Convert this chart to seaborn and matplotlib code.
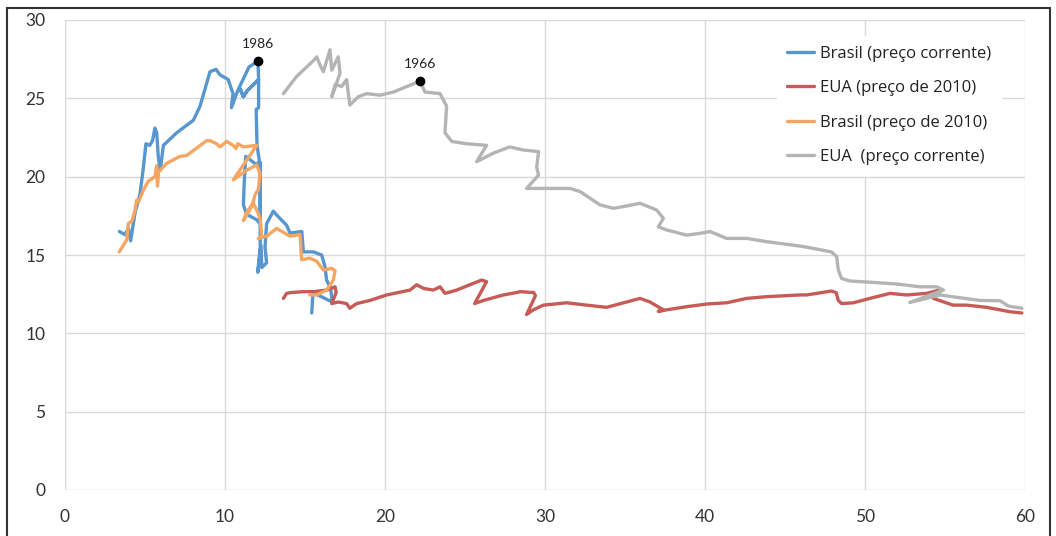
import matplotlib
matplotlib.use("Agg")
import matplotlib.pyplot as plt
import seaborn as sns
from matplotlib.patches import Rectangle

# Brasil (preço corrente)
br_cor_x = [3.4, 3.75, 3.96, 4.1, 4.38, 4.69, 4.9, 5.06, 5.3, 5.47, 5.62, 5.73, 5.83, 5.94, 6.0, 6.15,
            6.98, 8.02, 8.44, 9.06, 9.44, 9.69, 10.2, 10.5, 10.4, 10.8, 11.5, 12.06, 12.1, 11.4, 11.15,
            10.95, 11.15, 11.4, 12.1, 12.1, 11.95, 12.0, 12.15, 11.98, 11.3, 11.2, 11.15, 11.35, 11.98,
            12.2, 12.2, 12.2, 12.2, 12.05, 12.25, 12.3, 12.6, 12.5, 12.6, 13.02, 13.23, 13.85, 14.06,
            14.8, 14.9, 15.52, 16.04, 16.25, 16.35, 16.6, 16.7, 15.5, 15.42]
br_cor_y = [16.5, 16.3, 16.7, 15.9, 17.7, 18.9, 20.6, 22.1, 22.0, 22.3, 23.1, 22.8, 21.3, 20.4, 20.8, 22.0,
            22.8, 23.6, 24.5, 26.7, 26.85, 26.5, 26.2, 25.3, 24.4, 25.5, 27.0, 27.38, 26.2, 25.5, 25.1,
            25.6, 25.1, 25.5, 26.2, 24.4, 24.3, 22.0, 21.0, 20.75, 21.3, 19.6, 18.2, 17.6, 17.25,
            17.0, 20.9, 16.6, 15.5, 13.9, 15.6, 14.2, 14.5, 15.5, 17.0, 17.8, 17.55, 16.9, 16.4,
            16.5, 15.2, 15.2, 15.0, 14.25, 13.4, 12.9, 12.0, 12.6, 11.3]

# EUA (preço de 2010)
eua_2010_x = [13.65, 13.85, 14.1, 14.9, 15.52, 16.35, 16.88, 16.95, 16.67, 17.08, 17.6, 17.8, 18.23, 19.06,
              20.1, 21.56, 21.98, 22.4, 23.02, 23.44, 23.75, 24.48, 25.3, 26.04, 26.35, 25.6, 26.15, 27.4,
              28.2, 28.44, 29.3, 29.4, 28.85, 29.27, 29.9, 31.35, 32.6, 33.85, 35.1, 35.94, 36.56, 37.4,
              37.08, 37.6, 38.85, 40.1, 41.35, 42.6, 43.85, 45.94, 46.35, 47.9, 48.2, 48.33, 48.54, 49.27,
              50.3, 51.56, 52.6, 53.85, 54.8, 54.27, 55.5, 56.35, 57.6, 59.06, 59.8]
eua_2010_y = [12.23, 12.55, 12.6, 12.66, 12.66, 12.76, 12.97, 12.6, 11.9, 12.0, 11.9, 11.6, 11.9, 12.1,
              12.45, 12.76, 13.1, 12.87, 12.76, 12.97, 12.55, 12.76, 13.1, 13.4, 13.3, 11.9, 12.1, 12.45,
              12.6, 12.66, 12.6, 12.4, 11.2, 11.5, 11.8, 11.95, 11.8, 11.66, 12.0, 12.23, 12.0, 11.5,
              11.4, 11.5, 11.7, 11.87, 11.95, 12.23, 12.34, 12.45, 12.45, 12.7, 12.6, 12.1, 11.9, 11.95,
              12.23, 12.55, 12.45, 12.55, 12.8, 12.23, 11.8, 11.8, 11.66, 11.38, 11.3]

# Brasil (preço de 2010)
br_2010_x = [3.39, 3.85, 3.96, 4.2, 4.38, 4.48, 4.6, 4.9, 5.2, 5.62, 5.73, 5.78, 5.85, 6.35, 7.19, 7.6,
             8.85, 9.06, 9.48, 9.69, 10.1, 10.5, 10.69, 10.8, 11.15, 11.98, 10.52, 11.35, 11.98, 12.19,
             12.08, 11.9, 11.67, 11.15, 11.4, 11.77, 12.08, 12.2, 12.29, 12.08, 12.6, 13.23, 14.06,
             14.69, 14.79, 15.3, 15.73, 16.15, 16.67, 16.88, 16.77, 16.35, 15.73, 15.3]
br_2010_y = [15.2, 15.95, 17.0, 17.2, 17.9, 18.5, 18.4, 19.15, 19.7, 20.0, 20.7, 19.4, 20.3, 20.85, 21.3, 21.35,
             22.3, 22.3, 22.1, 21.9, 22.25, 22.0, 21.8, 22.1, 21.9, 22.0, 19.8, 20.4, 20.75, 20.2,
             19.15, 18.9, 18.1, 17.2, 17.8, 18.3, 17.65, 17.3, 16.2, 16.05, 16.2, 16.7, 16.2,
             16.3, 14.7, 14.8, 14.6, 14.04, 14.15, 14.0, 13.4, 12.76, 12.45, 12.45]

# EUA (preço corrente)
eua_cor_x = [13.65, 14.48, 15.52, 15.73, 15.95, 16.15, 16.56, 16.67, 17.08, 17.19, 16.67, 16.9, 17.29, 17.6,
             17.8, 18.33, 18.85, 19.7, 20.52, 22.19, 22.5, 23.44, 23.85, 23.75, 24.17, 25.1, 26.35, 25.73,
             26.77, 27.8, 28.65, 29.6, 29.48, 29.6, 28.85, 30.1, 31.56, 32.19, 33.44, 34.27, 35.1, 35.94,
             36.98, 37.4, 37.08, 37.6, 38.85, 39.69, 40.31, 41.35, 42.6, 43.85, 45.94, 46.35, 47.9, 48.23,
             48.33, 48.54, 49.06, 50.52, 51.98, 53.44, 54.48, 54.9, 52.8, 54.69, 55.73, 57.19, 58.44,
             58.96, 59.8]
eua_cor_y = [25.3, 26.4, 27.4, 27.65, 27.1, 26.7, 28.1, 26.8, 27.65, 26.6, 25.1, 25.9, 25.75, 26.2,
             24.57, 25.1, 25.3, 25.2, 25.4, 26.1, 25.4, 25.3, 24.5, 22.8, 22.25, 22.1, 22.0, 20.96,
             21.5, 21.9, 21.7, 21.6, 20.6, 20.1, 19.25, 19.25, 19.25, 19.05, 18.2, 17.98, 18.13, 18.3,
             17.87, 17.34, 16.8, 16.6, 16.27, 16.38, 16.5, 16.06, 16.06, 15.85, 15.57, 15.5, 15.2, 14.9,
             14.04, 13.5, 13.34, 13.25, 13.15, 12.97, 12.97, 12.76, 11.97, 12.45, 12.3, 12.1, 12.08,
             11.74, 11.6]

# marked years
marks = {"1986": (12.06, 27.38), "1966": (22.19, 26.1)}

sns.set_style("white")
plt.rcParams['font.family'] = ['Lato', 'DejaVu Sans']

fig = plt.figure(figsize=(10.56, 5.36), dpi=100)
ax = fig.add_axes([65 / 1056, 46 / 536, 960 / 1056, 470 / 536])

series = [
    (br_cor_x, br_cor_y, "Brasil (preço corrente)", "#5796CE"),
    (eua_2010_x, eua_2010_y, "EUA (preço de 2010)", "#C65B58"),
    (br_2010_x, br_2010_y, "Brasil (preço de 2010)", "#F4A662"),
    (eua_cor_x, eua_cor_y, "EUA  (preço corrente)", "#B4B4B4"),
]
for xs, ys, lab, col in series:
    sns.lineplot(x=xs, y=ys, sort=False, estimator=None, color=col, linewidth=2.4,
                 label=lab, ax=ax, solid_joinstyle='round', solid_capstyle='round')

for txt, (mx, my) in marks.items():
    ax.plot(mx, my, 'o', color='black', markersize=6, zorder=5)
    ax.annotate(txt, (mx, my), xytext=(0, 8), textcoords='offset points',
                ha='center', va='bottom', fontsize=10, color='#222222')

ax.set_xlim(0, 60)
ax.set_ylim(0, 30)
ax.set_xticks(range(0, 61, 10))
ax.set_yticks(range(0, 31, 5))
ax.grid(True, color='#D9D9D9', linewidth=1)
for s in ax.spines.values():
    s.set_visible(False)
ax.tick_params(axis='both', length=0, labelsize=12.5, colors='#333333')
ax.tick_params(axis='x', pad=14)
ax.tick_params(axis='y', pad=14)

leg = ax.legend(loc='upper left', bbox_to_anchor=(0.733, 0.984), frameon=True,
                prop={'family': ['Open Sans', 'DejaVu Sans'], 'size': 12},
                handlelength=1.6, handletextpad=0.35, labelspacing=1.1, borderpad=0.6)
leg.get_frame().set_facecolor('white')
leg.get_frame().set_edgecolor('white')
leg.get_frame().set_alpha(1)
for t in leg.get_texts():
    t.set_color('#222222')

# outer frame of the picture
fig.patches.append(Rectangle((7 / 1056, -0.05), 1043 / 1056, 1.05 - 8 / 536, transform=fig.transFigure,
                             fill=False, edgecolor='#333333', linewidth=1.5))

fig.savefig("out.png", dpi=100)
